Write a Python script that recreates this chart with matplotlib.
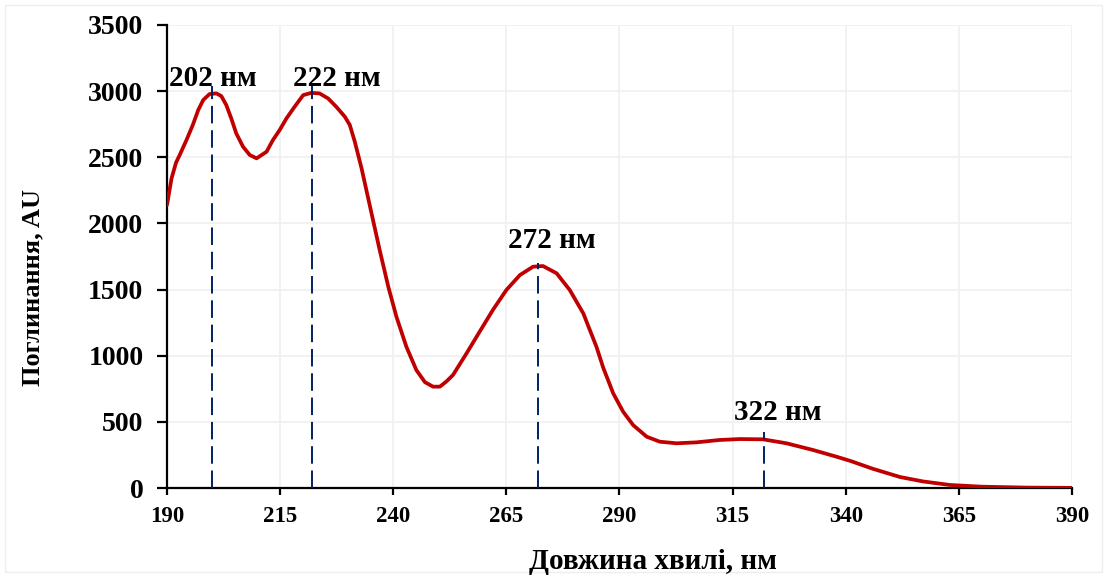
import matplotlib.pyplot as plt
import numpy as np
from matplotlib.patches import Rectangle

plt.rcParams['font.family'] = ['Liberation Serif', 'DejaVu Serif']
plt.rcParams['font.weight'] = 'bold'

# Spectrum (wavelength nm, absorbance AU)
wl = [190, 191, 192, 192.8, 194.3, 195.7, 196.9, 198, 199.4, 200.9, 202, 203.1, 204.2,
      205.3, 206.8, 208.3, 209.8, 212, 213.4, 214.9, 216.4, 218.2, 220.1, 221.9, 223.7,
      225.6, 227.4, 229.3, 230.4, 231.5, 233, 235.2, 237, 238.9, 240.7, 242.9, 245.1,
      247, 248.8, 250.3, 251.7, 253.2, 256.2, 259.1, 262, 265, 268, 270.9, 273.1,
      276.1, 279, 282, 284.9, 286.4, 288.6, 290.8, 293, 296, 298.9, 302.6, 307,
      312.1, 316.6, 321.7, 326.9, 332.8, 337.9, 341, 346, 352, 357, 363, 370, 380, 390]
au = [2140, 2340, 2460, 2517, 2630, 2744, 2857, 2933, 2978, 2983, 2963, 2895, 2794,
      2681, 2580, 2517, 2492, 2542, 2630, 2706, 2794, 2882, 2970, 2987, 2983,
      2945, 2882, 2807, 2744, 2618, 2416, 2076, 1799, 1522, 1295, 1068, 892,
      800, 766, 766, 804, 854, 1018, 1182, 1345, 1497, 1610, 1673, 1678,
      1623, 1497, 1320, 1068, 910, 716, 577, 476, 388, 350, 338, 345,
      363, 370, 368, 338, 287, 237, 205, 145, 83, 50, 23, 10, 3, 1]

# Peak markers
peak_x = [200, 222, 272, 322]
peak_top = [3040, 3040, 1700, 425]
peak_labels = ['202 нм', '222 нм', '272 нм', '322 нм']

fig = plt.figure(figsize=(11.07, 5.77), dpi=100)
ax = fig.add_axes([167/1107, 1-488/577, (1072-167)/1107, (488-25)/577])

ax.plot(wl, au, color='#C00000', lw=2.7, solid_joinstyle='round',
        solid_capstyle='round', zorder=3)
for x, top in zip(peak_x, peak_top):
    ax.plot([x, x], [0, top], color='#002060', lw=1.4, dashes=(9, 3.5), zorder=4)

label_pos = [(200.2, 3040), (227.5, 3040), (275, 1814), (325, 514)]
for (lx, ly), txt in zip(label_pos, peak_labels):
    ax.text(lx, ly, txt, ha='center', va='baseline', fontsize=21, fontweight='bold')

ax.set_xlim(190, 390)
ax.set_ylim(0, 3500)
ax.set_xticks(np.arange(190, 391, 25))
ax.set_yticks(np.arange(0, 3501, 500))
ax.grid(True, color='#F0F0F0', lw=1.2, zorder=0)
for s in ['top', 'right']:
    ax.spines[s].set_visible(False)
for s in ['left', 'bottom']:
    ax.spines[s].set_linewidth(1.6)
ax.tick_params(axis='x', length=5, width=1.6, pad=8, labelsize=16.5)
ax.tick_params(axis='y', length=7, width=1.6, pad=10, labelsize=20)
for lab in ax.get_xticklabels() + ax.get_yticklabels():
    lab.set_fontweight('bold')

fig.text(653/1107, 8/577, 'Довжина хвилі, нм', ha='center', va='baseline',
         fontsize=21, fontweight='bold')
fig.text(33/1107, 1-287/577, 'Поглинання, AU', ha='center', va='center',
         rotation=90, fontsize=19, fontweight='bold')

fig.patches.append(Rectangle((5/1107, 5/577), 1-10/1107, 1-10/577, transform=fig.transFigure,
                             fill=False, edgecolor='#EEEEEE', lw=1))

fig.savefig('out.png', dpi=100)
